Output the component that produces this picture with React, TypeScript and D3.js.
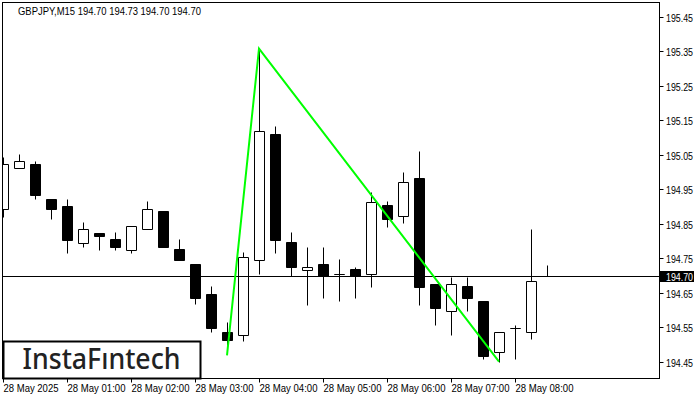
import React, { useEffect } from "react";
import * as d3 from "d3";

// ---- data (GBPJPY M15, 28 May 2025, bars from 00:00) ----
const opens = [
  194.893, 195.012, 195.022, 194.922, 194.902, 194.795, 194.824, 194.805, 194.775, 194.836,
  194.886, 194.776, 194.735, 194.648, 194.538, 194.529, 194.746, 195.111, 194.796, 194.717,
  194.735, 194.705, 194.718, 194.705, 194.903, 194.873, 194.984, 194.676, 194.597, 194.669,
  194.628, 194.478, 194.549, 194.536, 194.70,
];
const highs = [
  195.043, 195.053, 195.033, 194.922, 194.922, 194.854, 194.824, 194.825, 194.844, 194.915,
  194.886, 194.805, 194.735, 194.669, 194.567, 194.768, 195.357, 195.132, 194.825, 194.784,
  194.784, 194.747, 194.726, 194.942, 194.915, 195.001, 195.062, 194.676, 194.697, 194.697,
  194.628, 194.538, 194.558, 194.836, 194.73,
];
const lows = [
  194.871, 195.012, 194.921, 194.863, 194.765, 194.782, 194.775, 194.773, 194.765, 194.836,
  194.782, 194.745, 194.617, 194.536, 194.498, 194.512, 194.705, 194.765, 194.698, 194.616,
  194.635, 194.626, 194.635, 194.667, 194.842, 194.852, 194.616, 194.556, 194.527, 194.597,
  194.458, 194.451, 194.458, 194.516, 194.70,
];
const closes = [
  195.022, 195.032, 194.933, 194.892, 194.804, 194.836, 194.814, 194.782, 194.844, 194.893,
  194.782, 194.745, 194.635, 194.548, 194.515, 194.754, 195.120, 194.803, 194.724, 194.726,
  194.698, 194.705, 194.698, 194.914, 194.863, 194.972, 194.667, 194.606, 194.676, 194.634,
  194.466, 194.538, 194.549, 194.685, 194.70,
];
const xTickIndex = [0, 4, 8, 12, 16, 20, 24, 28, 32];
const xTickLabels = [
  "28 May 2025", "28 May 01:00", "28 May 02:00", "28 May 03:00", "28 May 04:00",
  "28 May 05:00", "28 May 06:00", "28 May 07:00", "28 May 08:00",
];
const yTicks = [195.45, 195.35, 195.25, 195.15, 195.05, 194.95, 194.85, 194.75, 194.65, 194.55, 194.45];
const patternIndex = [14, 16, 31];
const patternPrice = [194.469, 195.357, 194.451];
const bidPrice = 194.7;
const titleText = "GBPJPY,M15  194.70 194.73 194.70 194.70";
const logoText = "InstaFıntech";

const FONT = "'Liberation Sans', 'DejaVu Sans', sans-serif";

export default function App() {
  useEffect(() => {
    document.body.style.margin = "0";
  }, []);

  const W = 700;
  const H = 400;
  const left = 2.5;
  const right = 659.5;
  const top = 2.5;
  const bottom = 378.5;

  const x = d3.scaleLinear().domain([0, 34]).range([3, 547]);
  const y = d3.scaleLinear().domain([194.45, 195.45]).range([362, 16.5]);
  const snap = (v: number) => Math.round(v) + 0.5;

  const pattern = d3
    .line<number>()
    .x((_, i) => x(patternIndex[i]))
    .y((d) => y(d));

  const bidY = snap(y(bidPrice));

  return (
    <svg
      width={W}
      height={H}
      style={{ position: "absolute", left: 0, top: 0, display: "block", background: "#fff" }}
    >
      <rect x={0} y={0} width={W} height={H} fill="#fff" />
      <defs>
        <clipPath id="plot">
          <rect x={left} y={top} width={right - left} height={bottom - top} />
        </clipPath>
      </defs>

      <g clipPath="url(#plot)">
        {opens.map((o, i) => {
          const c = closes[i];
          const cx = Math.round(x(i));
          const bull = c >= o;
          const yTop = Math.round(y(Math.max(o, c)));
          const yBot = Math.round(y(Math.min(o, c)));
          const x0 = cx - 5 + 0.5;
          const x1 = cx + 5 + 0.5;
          const isLast = i === opens.length - 1;
          return (
            <g key={i}>
              <line
                x1={cx + 0.5}
                x2={cx + 0.5}
                y1={snap(y(highs[i]))}
                y2={snap(y(lows[i]))}
                stroke="#000"
                strokeWidth={1}
              />
              {!isLast && (
                <path
                  d={`M${x0},${yTop + 0.5}H${x1}V${yBot + 0.5}H${x0}Z`}
                  fill={bull ? "#fff" : "#000"}
                  stroke="#000"
                  strokeWidth={1}
                />
              )}
            </g>
          );
        })}

        <line x1={left} x2={right} y1={bidY} y2={bidY} stroke="#000" strokeWidth={1} />

        <path d={pattern(patternPrice) || ""} fill="none" stroke="#00ff00" strokeWidth={2} />
      </g>

      {/* frame */}
      <rect
        x={left}
        y={top}
        width={right - left}
        height={bottom - top}
        fill="none"
        stroke="#000"
        strokeWidth={1}
      />

      {/* title */}
      <text
        x={18}
        y={15}
        fontFamily={FONT}
        fontSize={10.5}
        fill="#000"
        textLength={183}
        lengthAdjust="spacingAndGlyphs"
      >
        {titleText}
      </text>

      {/* y axis */}
      {yTicks.map((t) => {
        const ty = snap(y(t));
        return (
          <g key={t}>
            <line x1={right} x2={right + 4} y1={ty} y2={ty} stroke="#000" strokeWidth={1} />
            <text
              x={666}
              y={ty + 4}
              fontFamily={FONT}
              fontSize={10.5}
              fill="#000"
              textLength={27}
              lengthAdjust="spacingAndGlyphs"
            >
              {d3.format(".2f")(t)}
            </text>
          </g>
        );
      })}
      <rect x={660} y={bidY - 5.5} width={34} height={11} fill="#000" />
      <text
        x={666}
        y={bidY + 4}
        fontFamily={FONT}
        fontSize={10.5}
        fill="#fff"
        textLength={27}
        lengthAdjust="spacingAndGlyphs"
      >
        {d3.format(".2f")(bidPrice)}
      </text>

      {/* x axis */}
      {xTickIndex.map((idx, k) => {
        const tx = Math.round(x(idx)) + 0.5;
        return (
          <g key={idx}>
            <line x1={tx} x2={tx} y1={bottom} y2={bottom + 4} stroke="#000" strokeWidth={1} />
            <text
              x={tx}
              y={392}
              fontFamily={FONT}
              fontSize={10.5}
              fill="#000"
              textLength={k === 0 ? 55 : 58}
              lengthAdjust="spacingAndGlyphs"
            >
              {xTickLabels[k]}
            </text>
          </g>
        );
      })}

      {/* logo */}
      <rect x={3.5} y={341.5} width={197} height={37} fill="#fff" stroke="#000" strokeWidth={2} />
      <text
        x={22.5}
        y={369}
        fontFamily="'Noto Sans', 'Open Sans', sans-serif"
        fontWeight={500}
        fontSize={28}
        fill="#222"
        textLength={158}
        lengthAdjust="spacingAndGlyphs"
      >
        {logoText}
      </text>
    </svg>
  );
}
